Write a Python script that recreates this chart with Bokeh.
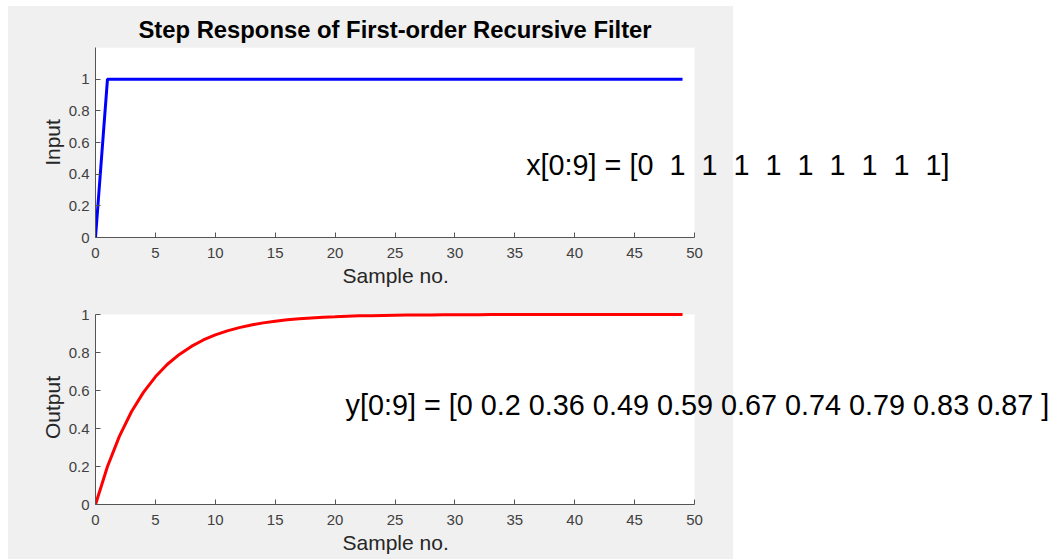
from bokeh.plotting import figure
from bokeh.layouts import column
from bokeh.models import Range1d, FixedTicker, CustomJSTickFormatter, Label, BoxAnnotation, Title
from bokeh.embed import file_html
from bokeh.resources import INLINE

# ---- data ----
n = list(range(50))
x_input = [0] + [1] * 49
y_output = [0, 0.2, 0.36, 0.488, 0.590, 0.672, 0.738, 0.790, 0.832, 0.866,
            0.893, 0.914, 0.931, 0.945, 0.956, 0.965, 0.972, 0.977, 0.982, 0.986,
            0.988, 0.991, 0.993, 0.994, 0.995, 0.996, 0.997, 0.998, 0.998, 0.999,
            0.999, 0.999, 0.999, 1.0, 1.0, 1.0, 1.0, 1.0, 1.0, 1.0,
            1.0, 1.0, 1.0, 1.0, 1.0, 1.0, 1.0, 1.0, 1.0, 1.0]
x_ticks = [0, 5, 10, 15, 20, 25, 30, 35, 40, 45, 50]
y_ticks = [0, 0.2, 0.4, 0.6, 0.8, 1.0]
x_lim = (0, 50)
y_lim_top = (0, 1.2)
y_lim_bottom = (0, 1.0)

title_text = "Step Response of First-order Recursive Filter"
x_label = "Sample no."
x_note = "x[0:9] = [" + " \u00a0".join(str(v) for v in x_input[:10]) + "]"
y_note = "y[0:9] = [" + " ".join(f"{round(v, 2):g}" for v in y_output[:10]) + " ]"

FONT = "Liberation Sans"
AXIS_COLOR = "#555555"
TICK_LABEL_COLOR = "#404040"
PX = 599 / 50.0          # pixels per x unit
FRAME_W = 960
X_END = FRAME_W / PX


def style(p, ylabel, ylim):
    p.background_fill_color = None
    p.border_fill_color = None
    p.outline_line_color = None
    p.xgrid.visible = False
    p.ygrid.visible = False
    p.add_layout(BoxAnnotation(left=x_lim[0], right=x_lim[1], bottom=ylim[0], top=ylim[1],
                               fill_color="white", fill_alpha=1.0, line_color=None,
                               level="underlay"))
    for ax in (p.xaxis[0], p.yaxis[0]):
        ax.axis_line_color = AXIS_COLOR
        ax.axis_line_width = 1
        ax.major_tick_line_color = AXIS_COLOR
        ax.major_tick_in = 5
        ax.major_tick_out = 0
        ax.minor_tick_line_color = None
        ax.major_label_text_font = FONT
        ax.major_label_text_font_size = "15px"
        ax.major_label_text_color = TICK_LABEL_COLOR
        ax.axis_label_text_font = FONT
        ax.axis_label_text_font_size = "21px"
        ax.axis_label_text_font_style = "normal"
        ax.axis_label_text_color = "#262626"
    p.xaxis[0].bounds = x_lim
    p.yaxis[0].bounds = ylim
    p.xaxis[0].ticker = FixedTicker(ticks=x_ticks)
    p.yaxis[0].ticker = FixedTicker(ticks=y_ticks)
    p.yaxis[0].formatter = CustomJSTickFormatter(code="return String(Math.round(tick*10)/10);")
    p.yaxis[0].axis_label = ylabel
    p.xaxis[0].major_label_standoff = 10
    p.yaxis[0].major_label_standoff = 6
    p.yaxis[0].axis_label_standoff = 2
    # x-axis label centred under the 0..50 data span (frame is wider for the notes)
    p.add_layout(Title(text=x_label, align="left", offset=247, standoff=2,
                       text_font=FONT, text_font_size="21px", text_font_style="normal",
                       text_color="#262626"), "below")


# top: frame spans page x 95..1055, y 47..237 (data 0..1.2)
p1 = figure(frame_width=FRAME_W, frame_height=190, min_border=0,
            min_border_left=95, min_border_top=47, min_border_bottom=53,
            x_range=Range1d(0, X_END), y_range=Range1d(*y_lim_top),
            output_backend="svg", toolbar_location=None)
p1.title.text = title_text
p1.title.align = "left"
p1.title.offset = 43
p1.title.text_font = FONT
p1.title.text_font_size = "23.8px"
p1.title.text_font_style = "bold"
p1.title.text_color = "black"
style(p1, "Input", y_lim_top)
p1.line(n, x_input, line_color="#0000ff", line_width=3)
p1.add_layout(Label(x=35.95, y=0.459, text=x_note, text_font=FONT, text_font_size="28.8px",
                    text_color="black", text_align="left", text_baseline="alphabetic"))

# bottom: frame spans page y 310..504; data 0..1 maps to 504..314
bot_frame_h = 194
bot_y_end = bot_frame_h / 190.0
p2 = figure(frame_width=FRAME_W, frame_height=bot_frame_h, min_border=0,
            min_border_left=95, min_border_top=20, min_border_bottom=55,
            x_range=Range1d(0, X_END), y_range=Range1d(0, bot_y_end),
            output_backend="svg", toolbar_location=None)
p2.title.visible = False
style(p2, "Output", y_lim_bottom)
p2.line(n, y_output, line_color="#ff0000", line_width=3)
p2.add_layout(Label(x=20.87, y=0.525, text=y_note, text_font=FONT, text_font_size="28.8px",
                    text_color="black", text_align="left", text_baseline="alphabetic"))

bg = ("linear-gradient(to bottom, #ffffff 0px, #ffffff 6px, rgba(255,255,255,0) 6px), "
      "linear-gradient(to right, #ffffff 0px, #ffffff 8px, #f0f0f0 8px, #f0f0f0 733px, #ffffff 733px)")
layout = column(p1, p2, spacing=0, styles={"background": bg})

open("out.html", "w").write(file_html(layout, INLINE))
